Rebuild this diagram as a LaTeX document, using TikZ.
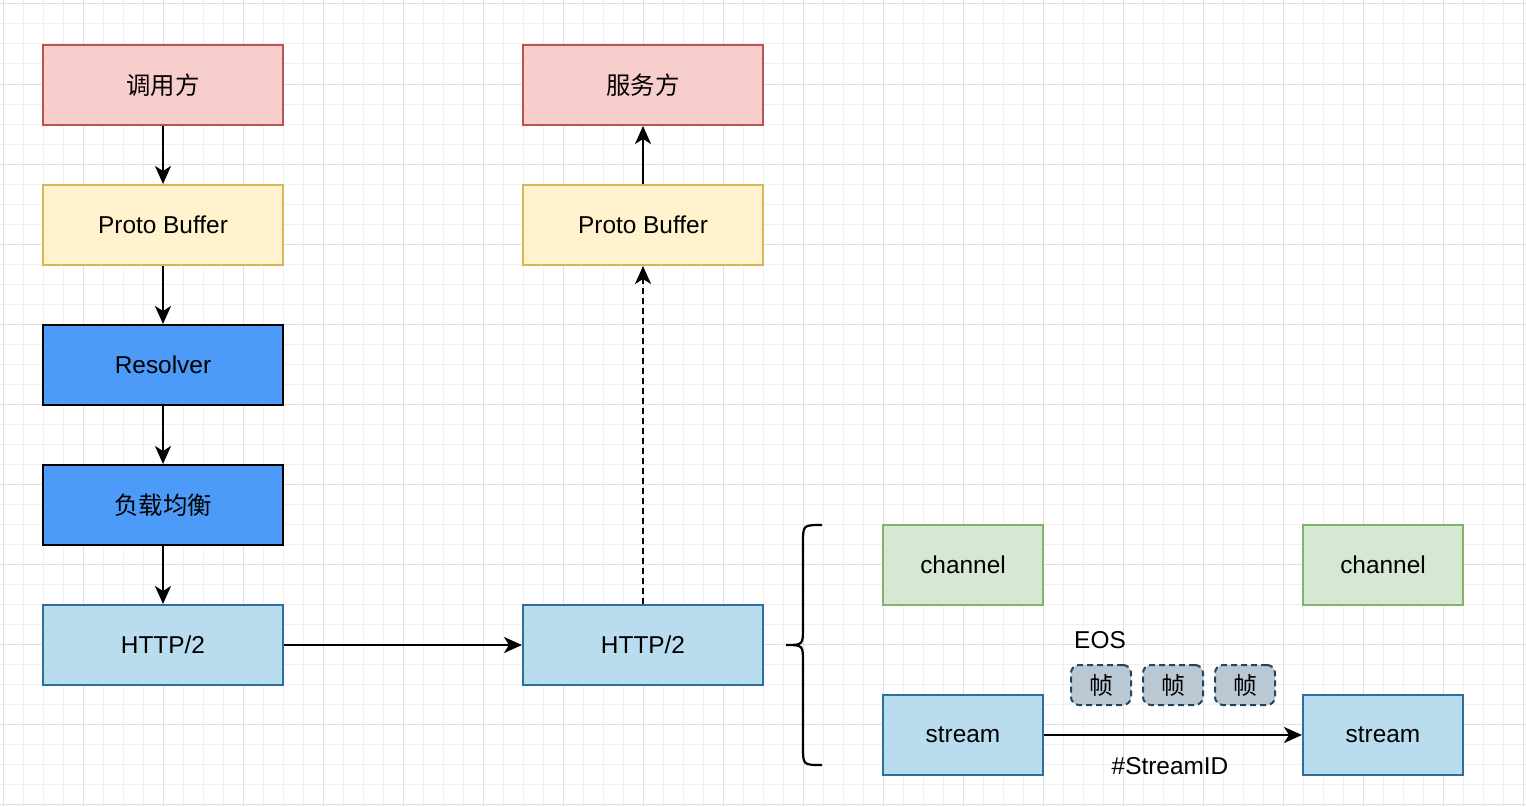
\documentclass[tikz,border=0pt]{standalone}
\usepackage{fontspec}
\setmainfont{Liberation Sans}
\newfontfamily\cjk{Noto Sans CJK SC}
\usetikzlibrary{arrows.meta}
\definecolor{gridminor}{HTML}{F0F0F0}
\definecolor{gridmajor}{HTML}{E0E0E0}
\definecolor{redfill}{HTML}{F8CECC}
\definecolor{redline}{HTML}{B85450}
\definecolor{yelfill}{HTML}{FFF2CC}
\definecolor{yelline}{HTML}{D6B656}
\definecolor{bluefill}{HTML}{4D9BF8}
\definecolor{ltfill}{HTML}{B9DCEF}
\definecolor{ltline}{HTML}{2E6E9E}
\definecolor{grfill}{HTML}{D5E8D4}
\definecolor{grline}{HTML}{82B366}
\definecolor{frfill}{HTML}{BAC8D3}
\definecolor{frline}{HTML}{23445D}
\tikzset{
  box/.style={draw, line width=2bp, minimum width=240bp, minimum height=80bp, inner sep=0pt, font=\fontsize{24.5}{27}\selectfont, text=black},
  smallbox/.style={box, minimum width=160bp},
  redbox/.style={box, fill=redfill, draw=redline},
  yelbox/.style={box, fill=yelfill, draw=yelline},
  darkbox/.style={box, fill=bluefill, draw=black},
  ltbox/.style={box, fill=ltfill, draw=ltline},
  grbox/.style={smallbox, fill=grfill, draw=grline},
  strbox/.style={smallbox, fill=ltfill, draw=ltline},
  framebox/.style={draw=frline, fill=frfill, line width=2bp, dash pattern=on 6bp off 4bp, rounded corners=8bp, minimum width=60bp, minimum height=40bp, inner sep=0pt, font=\cjk\fontsize{24}{27}\selectfont},
  conn/.style={line width=2.2bp, -{Stealth[length=18bp,width=16bp,inset=5bp]}},
  lbl/.style={font=\fontsize{24.5}{27}\selectfont, inner sep=0pt},
}
\begin{document}
\begin{tikzpicture}[x=1bp,y=-1bp]
\useasboundingbox (0,0) rectangle (1526,806);
\fill[white] (0,0) rectangle (1526,806);
% grid
\foreach \i in {0,...,76} {
  \draw[gridminor, line width=1bp] ({3+20*\i},0) -- ({3+20*\i},806);
}
\foreach \j in {0,...,40} {
  \draw[gridminor, line width=1bp] (0,{4+20*\j}) -- (1526,{4+20*\j});
}
\foreach \i in {0,...,19} {
  \draw[gridmajor, line width=1bp] ({3+80*\i},0) -- ({3+80*\i},806);
}
\foreach \j in {0,...,10} {
  \draw[gridmajor, line width=1bp] (0,{4+80*\j}) -- (1526,{4+80*\j});
}
% left column
\node[redbox] (caller) at (163,85) {\cjk 调用方};
\node[yelbox] (pbl) at (163,225) {Proto Buffer};
\node[darkbox] (resolver) at (163,365) {Resolver};
\node[darkbox] (lb) at (163,505) {\cjk 负载均衡};
\node[ltbox] (httpl) at (163,645) {HTTP/2};
% right column
\node[redbox] (server) at (643,85) {\cjk 服务方};
\node[yelbox] (pbr) at (643,225) {Proto Buffer};
\node[ltbox] (httpr) at (643,645) {HTTP/2};
% connectors
\draw[conn] (caller) -- (pbl);
\draw[conn] (pbl) -- (resolver);
\draw[conn] (resolver) -- (lb);
\draw[conn] (lb) -- (httpl);
\draw[conn] (httpl) -- (httpr);
\draw[conn, dash pattern=on 6bp off 4bp] (httpr) -- (pbr);
\draw[conn] (pbr) -- (server);
% brace
\draw[line width=2.2bp] (822,525) .. controls (803,525) .. (803,543) -- (803,627)
  .. controls (803,645) .. (786,645) .. controls (803,645) .. (803,663) -- (803,747)
  .. controls (803,765) .. (822,765);
% right detail
\node[grbox] (ch1) at (963,565) {channel};
\node[grbox] (ch2) at (1383,565) {channel};
\node[strbox] (st1) at (963,735) {stream};
\node[strbox] (st2) at (1383,735) {stream};
\draw[conn] (st1) -- (st2);
\node[framebox] (f1) at (1101,685) {帧};
\node[framebox] (f2) at (1173,685) {帧};
\node[framebox] (f3) at (1245,685) {帧};
\node[lbl] (eos) at (1100,640) {EOS};
\node[lbl] (sid) at (1170,766) {\#StreamID};
\end{tikzpicture}
\end{document}
